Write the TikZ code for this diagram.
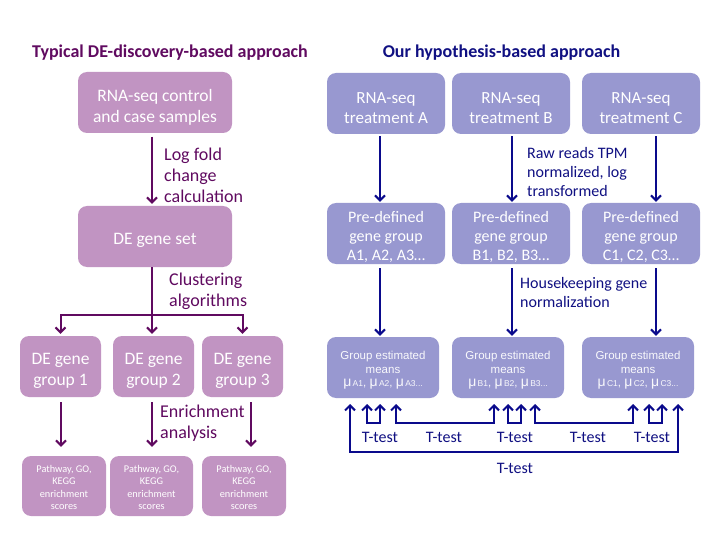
\documentclass[tikz,border=0pt]{standalone}
\usepackage{fontspec}
\setmainfont{Carlito}
\newfontfamily\arialf{Liberation Sans}
\usetikzlibrary{arrows.meta}
\definecolor{lbox}{RGB}{193,148,194}
\definecolor{ldark}{RGB}{96,10,96}
\definecolor{rbox}{RGB}{152,152,208}
\definecolor{rdark}{RGB}{16,16,130}
\definecolor{rarrc}{RGB}{10,10,140}
\begin{document}
\begin{tikzpicture}[x=1pt,y=-1pt,
  box/.style={rounded corners=9pt, draw=none, inner sep=0pt},
  lb/.style={box, fill=lbox},
  rb/.style={box, fill=rbox},
  btext/.style={text=white, align=center, inner sep=0pt},
  bigl/.style={btext, font=\fontsize{17.5}{21}\selectfont},
  bigr/.style={btext, font=\fontsize{17}{20.4}\selectfont},
  midr/.style={btext, font=\fontsize{16}{19}\selectfont},
  smalll/.style={btext, font=\fontsize{10.3}{12.3}\selectfont},
  arialbox/.style={btext, font=\arialf\fontsize{11.5}{14}\selectfont, text=white!94!rbox},
  ttl/.style={font=\bfseries\fontsize{18}{21}\selectfont},
  llab/.style={text=ldark, align=left, anchor=west, inner sep=0pt, font=\fontsize{18}{21}\selectfont},
  rlab/.style={text=rdark, align=left, anchor=west, inner sep=0pt, font=\fontsize{16}{19}\selectfont},
  tlab/.style={text=rdark, inner sep=0pt, font=\fontsize{16}{19}\selectfont},
  larr/.style={draw=ldark, line width=2pt, -{Straight Barb[length=5pt,width=10pt,line width=2pt]}},
  lline/.style={draw=ldark, line width=2pt},
  rarr/.style={draw=rarrc, line width=2pt, -{Straight Barb[length=5pt,width=10pt,line width=2pt]}},
  rboth/.style={draw=rarrc, line width=2pt, {Straight Barb[length=5pt,width=10pt,line width=2pt]}-{Straight Barb[length=5pt,width=10pt,line width=2pt]}}
]
\useasboundingbox[fill=white] (0,0) rectangle (720,540);

% ---------- Left side ----------
\node[ttl, text=ldark] (ltitle) at (170,53) {Typical DE-discovery-based approach};

\node[lb, minimum width=154pt, minimum height=61pt] (L1) at (155,102.5) {};
\node[bigl] (L1t) at ([yshift=-4.5pt]L1.center) {RNA-seq control\\and case samples};
\node[lb, minimum width=154pt, minimum height=61pt] (L2) at (155,236.5) {};
\node[bigl] (L2t) at ([yshift=-4pt]L2.center) {DE gene set};

\node[lb, minimum width=81pt, minimum height=61pt] (G1) at (60.5,366.5) {};
\node[lb, minimum width=81pt, minimum height=61pt] (G2) at (153.5,366.5) {};
\node[lb, minimum width=81pt, minimum height=61pt] (G3) at (242.5,366.5) {};
\node[bigl] (G1t) at ([yshift=-4pt]G1.center) {DE gene\\group 1};
\node[bigl] (G2t) at ([yshift=-4pt]G2.center) {DE gene\\group 2};
\node[bigl] (G3t) at ([yshift=-4pt]G3.center) {DE gene\\group 3};

\node[lb, minimum width=84pt, minimum height=60pt] (B1) at (64,486) {};
\node[lb, minimum width=83pt, minimum height=60pt] (B2) at (151.5,486) {};
\node[lb, minimum width=84pt, minimum height=60pt] (B3) at (244,486) {};
\node[smalll] (B1t) at ([yshift=-1.5pt]B1.center) {Pathway, GO,\\KEGG\\enrichment\\scores};
\node[smalll] (B2t) at ([yshift=-1.5pt]B2.center) {Pathway, GO,\\KEGG\\enrichment\\scores};
\node[smalll] (B3t) at ([yshift=-1.5pt]B3.center) {Pathway, GO,\\KEGG\\enrichment\\scores};

\coordinate (xl) at (152,0);
\coordinate (xg1) at (61,0);
\coordinate (xg3) at (251,0);
\coordinate (cj) at (152,315);

\draw[larr, shorten <=3.5pt, shorten >=2pt] (L1.south -| xl) -- (L2.north -| xl);
\draw[lline] (L2.south -| xl) -- (cj);
\draw[larr, shorten >=2pt] (cj) -- (G2.north -| xl);
\draw[larr, shorten >=2pt] (cj) -| (G1.north);
\draw[larr, shorten >=2pt] (cj) -| (G3.north);

\draw[larr, shorten <=5pt, shorten >=9pt] (G1.south -| xg1) -- (B1.north -| xg1);
\draw[larr, shorten <=5pt, shorten >=9pt] (G2.south -| xl) -- (B2.north -| xl);
\draw[larr, shorten <=5pt, shorten >=9pt] (G3.south -| xg3) -- (B3.north -| xg3);

\node[llab] (lab1) at (164,175) {Log fold\\change\\calculation};
\node[llab] (lab2) at (169,291) {Clustering\\algorithms};
\node[llab] (lab3) at (160,423) {Enrichment\\analysis};

% ---------- Right side ----------
\node[ttl, text=rdark] (rtitle) at (501.5,53) {Our hypothesis-based approach};

\node[rb, minimum width=118pt, minimum height=61pt] (rA1) at (386,103.5) {};
\node[rb, minimum width=118pt, minimum height=61pt] (rB1) at (511,103.5) {};
\node[rb, minimum width=118pt, minimum height=61pt] (rC1) at (641,103.5) {};
\node[bigr] (rA1t) at ([yshift=-4.5pt]rA1.center) {RNA-seq\\treatment A};
\node[bigr] (rB1t) at ([yshift=-4.5pt]rB1.center) {RNA-seq\\treatment B};
\node[bigr] (rC1t) at ([yshift=-4.5pt]rC1.center) {RNA-seq\\treatment C};

\node[rb, minimum width=118pt, minimum height=61pt] (rA2) at (386,233.5) {};
\node[rb, minimum width=118pt, minimum height=61pt] (rB2) at (511,233.5) {};
\node[rb, minimum width=118pt, minimum height=61pt] (rC2) at (641,233.5) {};
\node[midr] (rA2t) at ([yshift=-3.5pt]rA2.center) {Pre-defined\\gene group\\A1, A2, A3…};
\node[midr] (rB2t) at ([yshift=-3.5pt]rB2.center) {Pre-defined\\gene group\\B1, B2, B3…};
\node[midr] (rC2t) at ([yshift=-3.5pt]rC2.center) {Pre-defined\\gene group\\C1, C2, C3…};

\newcommand{\mub}[1]{{\fontsize{14}{14}\selectfont μ}{\fontsize{8.5}{10}\selectfont\,#1}}
\node[rb, minimum width=112pt, minimum height=61pt] (rA3) at (383,367.5) {};
\node[rb, minimum width=112pt, minimum height=61pt] (rB3) at (508,367.5) {};
\node[rb, minimum width=112pt, minimum height=61pt] (rC3) at (638,367.5) {};
\node[arialbox] (rA3t) at ([yshift=-2.5pt]rA3.center) {Group estimated\\means\\[-1pt]\mub{A1}, \mub{A2}, \mub{A3...}};
\node[arialbox] (rB3t) at ([yshift=-2.5pt]rB3.center) {Group estimated\\means\\[-1pt]\mub{B1}, \mub{B2}, \mub{B3...}};
\node[arialbox] (rC3t) at ([yshift=-2.5pt]rC3.center) {Group estimated\\means\\[-1pt]\mub{C1}, \mub{C2}, \mub{C3...}};

\coordinate (xa) at (380,0);
\coordinate (xb) at (512,0);
\coordinate (xc) at (656,0);

\draw[rarr, shorten <=2pt, shorten >=1pt] (rA1.south -| xa) -- (rA2.north -| xa);
\draw[rarr, shorten <=2pt, shorten >=1pt] (rB1.south -| xb) -- (rB2.north -| xb);
\draw[rarr, shorten <=2pt, shorten >=1pt] (rC1.south -| xc) -- (rC2.north -| xc);

\draw[rarr, shorten <=4pt, shorten >=1pt] (rA2.south -| xa) -- (rA3.north -| xa);
\draw[rarr, shorten <=4pt, shorten >=1pt] (rB2.south -| xb) -- (rB3.north -| xb);
\draw[rarr, shorten <=4pt, shorten >=1pt] (rC2.south -| xc) -- (rC3.north -| xc);

\node[rlab] (lab4) at (527,172) {Raw reads TPM\\normalized, log\\transformed};
\node[rlab] (lab5) at (520,293) {Housekeeping gene\\normalization};

% T-test connectors
\coordinate (t1) at (350,404);
\coordinate (t2) at (367,404);
\coordinate (t3) at (380,404);
\coordinate (t4) at (396,404);
\coordinate (t5) at (494,404);
\coordinate (t6) at (508,404);
\coordinate (t7) at (521,404);
\coordinate (t8) at (535,404);
\coordinate (t9) at (633,404);
\coordinate (t10) at (649,404);
\coordinate (t11) at (662,404);
\coordinate (t12) at (678,404);

\draw[rboth] (t2) -- ++(0,19) -| (t3);
\draw[rboth] (t4) -- ++(0,19) -| (t5);
\draw[rboth] (t6) -- ++(0,19) -| (t7);
\draw[rboth] (t8) -- ++(0,19) -| (t9);
\draw[rboth] (t10) -- ++(0,19) -| (t11);
\draw[rboth] (t1) -- ++(0,48) -| (t12);

\node[tlab] (tt1) at (380,437) {T-test};
\node[tlab] (tt2) at (444,437) {T-test};
\node[tlab] (tt3) at (515,437) {T-test};
\node[tlab] (tt4) at (588,437) {T-test};
\node[tlab] (tt5) at (652,437) {T-test};
\node[tlab] (tt6) at (515,468) {T-test};
\end{tikzpicture}
\end{document}
